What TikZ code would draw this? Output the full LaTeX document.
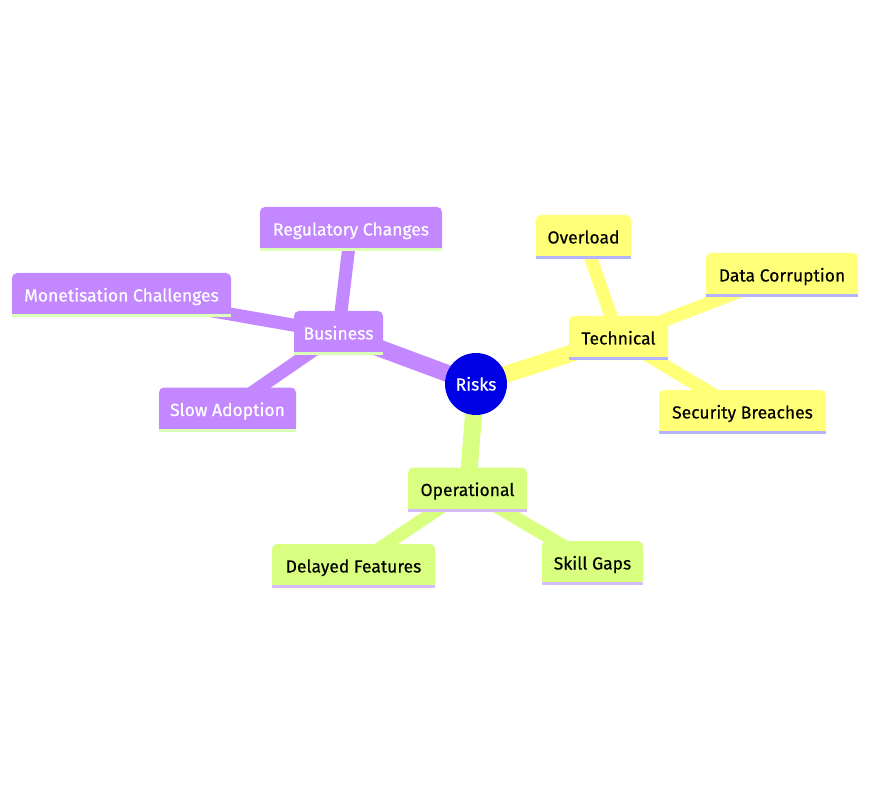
\documentclass[tikz,border=0pt]{standalone}
\usepackage{fontspec}
\setmainfont{Fira Sans}[FakeBold=0.35]
\usetikzlibrary{backgrounds}
\definecolor{rootblue}{HTML}{0000E6}
\definecolor{purp}{HTML}{C388FF}
\definecolor{purpbar}{HTML}{DCFFB8}
\definecolor{yell}{HTML}{FFFF78}
\definecolor{yellbar}{HTML}{B3B3FF}
\definecolor{gren}{HTML}{D9FF80}
\definecolor{grenbar}{HTML}{D4BCFF}
\begin{document}
\begin{tikzpicture}[x=1pt,y=-1pt,
  box/.style={rounded corners=5pt,inner sep=0pt,minimum height=44pt,text height=16pt,text depth=3pt,font=\fontsize{17.5}{20}\selectfont},
  busbox/.style={box,fill=purp,text=white},
  techbox/.style={box,fill=yell,text=black},
  opbox/.style={box,fill=gren,text=black},
  mainedge/.style={line width=17pt},
  subedge/.style={line width=13pt}]

\useasboundingbox (0,0) rectangle (870,794);

% root
\node [circle,fill=rootblue,text=white,minimum size=62pt,inner sep=0pt,text height=16pt,text depth=3pt,font=\fontsize{17.5}{20}\selectfont] (risks) at (476,384) {Risks};

% Business
\node [busbox,minimum width=89pt] (bus) at (338.5,333) {Business};
\node [busbox,minimum width=182pt] (reg) at (351,229) {Regulatory Changes};
\node [busbox,minimum width=219pt] (mon) at (121.5,295) {Monetisation Challenges};
\node [busbox,minimum width=137pt] (slow) at (227.5,409.5) {Slow Adoption};

% Technical
\node [techbox,minimum width=99pt] (tech) at (618.5,338) {Technical};
\node [techbox,minimum width=95pt] (over) at (583.5,237) {Overload};
\node [techbox,minimum width=152pt] (data) at (782,275) {Data Corruption};
\node [techbox,minimum width=167pt] (sec) at (742.5,412) {Security Breaches};

% Operational
\node [opbox,minimum width=119pt] (oper) at (467.5,489.5) {Operational};
\node [opbox,minimum width=163pt] (delay) at (353.5,566) {Delayed Features};
\node [opbox,minimum width=101pt] (skill) at (592.5,563) {Skill Gaps};

% square bottoms and bars
\foreach \n/\c/\b in {bus/purp/purpbar,reg/purp/purpbar,mon/purp/purpbar,slow/purp/purpbar,
  tech/yell/yellbar,over/yell/yellbar,data/yell/yellbar,sec/yell/yellbar,
  oper/gren/grenbar,delay/gren/grenbar,skill/gren/grenbar}{
  \fill [\c] ([yshift=3pt]\n.south west) rectangle ([yshift=8pt]\n.south east);
  \fill [\b] (\n.south west) rectangle ([yshift=3pt]\n.south east);
}

\begin{pgfonlayer}{background}
\draw [mainedge,purp] (risks.center) -- (bus.center);
\draw [mainedge,yell] (risks.center) -- (tech.center);
\draw [mainedge,gren] (risks.center) -- (oper.center);
\foreach \a/\c in {reg/purp,mon/purp,slow/purp}
  \draw [subedge,\c] (bus.center) -- (\a.center);
\foreach \a/\c in {over/yell,data/yell,sec/yell}
  \draw [subedge,\c] (tech.center) -- (\a.center);
\foreach \a/\c in {delay/gren,skill/gren}
  \draw [subedge,\c] (oper.center) -- (\a.center);
\end{pgfonlayer}
\end{tikzpicture}
\end{document}
